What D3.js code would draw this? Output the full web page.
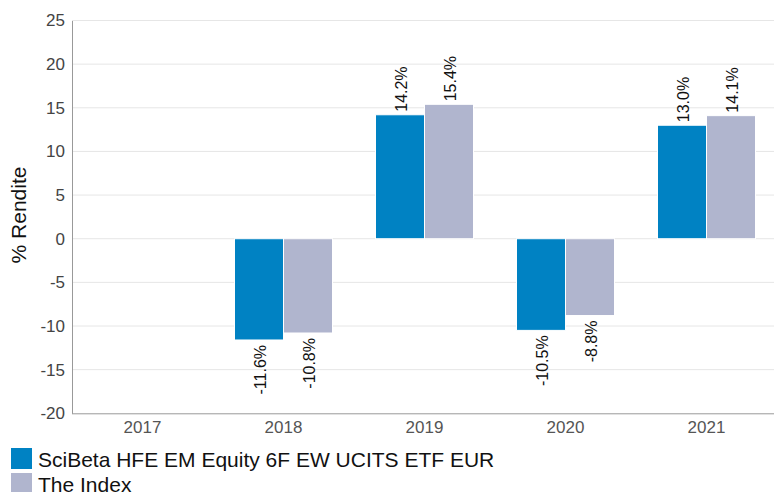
<!DOCTYPE html>
<html><head><meta charset="utf-8">
<script src="https://cdn.jsdelivr.net/npm/d3@7"></script>
<style>body{margin:0;background:#fff}svg{display:block;font-family:"Liberation Sans",Arial,sans-serif}</style>
</head><body><svg id="c" width="774" height="492"></svg>
<script>
const categories = ["2017","2018","2019","2020","2021"];
const seriesNames = ["SciBeta HFE EM Equity 6F EW UCITS ETF EUR","The Index"];
const fundValues = [null,-11.6,14.2,-10.5,13.0];
const indexValues = [null,-10.8,15.4,-8.8,14.1];
const yTicks = [25,20,15,10,5,0,-5,-10,-15,-20];
const colors = ["#0082c3","#b0b5ce"];

(function(){
const svg = d3.select("#c");
const pLeft = 72, pRight = 777, pTop = 20.5, pBottom = 413.3;
const x0 = d3.scaleBand().domain(categories).range([pLeft,pRight]);
const x1 = d3.scaleBand().domain([0,1]).range([0,98]);
const y = d3.scaleLinear().domain([-20,25]).range([pBottom,pTop]);
const FF = "Liberation Sans, Arial, sans-serif";

svg.append("g").selectAll("line").data(yTicks.filter(d=>d!==-20)).join("line")
  .attr("x1",pLeft).attr("x2",774).attr("y1",d=>y(d)).attr("y2",d=>y(d))
  .attr("stroke","#e6e6e6").attr("stroke-width",1);

const ya = svg.append("g").attr("transform",`translate(${pLeft},0)`)
  .call(d3.axisLeft(y).tickValues(yTicks).tickFormat(d=>String(d)).tickSize(0).tickPadding(7));
ya.select(".domain").attr("stroke","#999");
ya.selectAll("text").attr("font-size",17).attr("fill","#444").attr("font-family",FF);

const xa = svg.append("g").attr("transform",`translate(0,${pBottom})`)
  .call(d3.axisBottom(x0).tickSize(0).tickPadding(8));
xa.select(".domain").attr("stroke","#999").attr("d",`M${pLeft},0.5H774`);
xa.selectAll("text").attr("font-size",17).attr("fill","#555").attr("font-family",FF);

svg.append("text").attr("transform",`translate(26,215) rotate(-90)`)
  .attr("text-anchor","middle").attr("font-size",21).attr("fill","#111").text("% Rendite");

const series = [fundValues,indexValues];
series.forEach((vals,si)=>{
  const g = svg.append("g");
  const data = categories.map((c,i)=>({c,v:vals[i]})).filter(d=>d.v!==null);
  const bx = d=> x0(d.c)+x0.bandwidth()/2-49+x1(si);
  g.selectAll("rect").data(data).join("rect")
    .attr("x",bx).attr("width",x1.bandwidth())
    .attr("y",d=>y(Math.max(0,d.v))).attr("height",d=>Math.abs(y(d.v)-y(0)))
    .attr("fill",colors[si]).attr("stroke","#fff").attr("stroke-width",1);
  g.selectAll("text").data(data).join("text")
    .attr("transform",d=>{
      const cx = bx(d)+x1.bandwidth()/2;
      const yy = d.v>=0 ? y(d.v)-3 : y(d.v)+5;
      return `translate(${cx+1},${yy}) rotate(-90)`;
    })
    .attr("dy","0.35em")
    .attr("text-anchor",d=>d.v>=0?"start":"end")
    .attr("font-size",16).attr("fill","#111")
    .text(d=>d.v.toFixed(1)+"%");
});

const lg = svg.append("g");
seriesNames.forEach((n,i)=>{
  lg.append("rect").attr("x",11).attr("y",448+i*25).attr("width",21).attr("height",21).attr("fill",colors[i]);
  lg.append("text").attr("x",38).attr("y",466.5+i*25).attr("font-size",21).attr("fill","#111").text(n);
});
})();
</script></body></html>
